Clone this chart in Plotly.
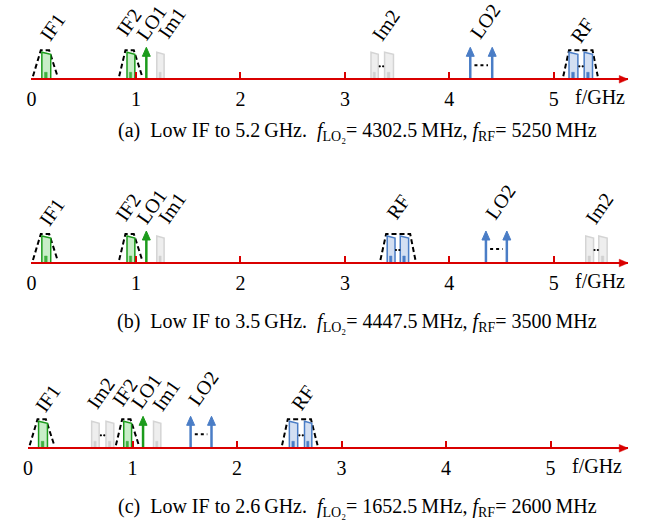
import plotly.graph_objects as go

W, H = 652, 523
PX_PER_GHZ = 105.3

# ---------------- data (GHz) ----------------
TICKS = [0, 1, 2, 3, 4, 5]
TICK_TEXT = ["0", "1", "2", "3", "4", "5"]
IF1_BAND = (0.10, 0.185)
IF2_BAND = (0.915, 0.99)
LO1 = 1.10
IM1_BAND = (1.20, 1.27)
IF1_FILTER_BOTTOM = (0.015, 0.25)
IF1_FILTER_TOP = (0.09, 0.17)
IF2_FILTER_BOTTOM = (0.84, 1.06)
IF2_FILTER_TOP = (0.90, 0.98)

LO2_ARROWS = [(4.20, 4.41), (4.35, 4.55), (1.555, 1.755)]
RF_BANDS = [[(5.145, 5.23), (5.29, 5.37)],
            [(3.405, 3.48), (3.53, 3.61)],
            [(2.50, 2.58), (2.645, 2.715)]]
RF_FILTER_BOTTOM = [(5.09, 5.42), (3.34, 3.675), (2.43, 2.77)]
RF_FILTER_TOP = [(5.145, 5.37), (3.395, 3.625), (2.485, 2.707)]
IM2_BANDS = [[(3.25, 3.32), (3.38, 3.465)],
             [(5.305, 5.38), (5.43, 5.51)],
             [(0.608, 0.68), (0.745, 0.82)]]

PANEL_LABELS = [
    [("IF1", 0.203, 52), ("IF2", 0.934, 57), ("LO1", 1.154, 57), ("Im1", 1.343, 56),
     ("Im2", 3.394, 54), ("LO2", 4.344, 58), ("RF", 5.274, 49)],
    [("IF1", 0.194, 51), ("IF2", 0.925, 56), ("LO1", 1.154, 57), ("Im1", 1.343, 55),
     ("RF", 3.508, 56), ("LO2", 4.486, 61), ("Im2", 5.436, 55)],
    [("IF1", 0.19, 50), ("Im2", 0.697, 55), ("IF2", 0.928, 56), ("LO1", 1.132, 57),
     ("Im1", 1.322, 53), ("LO2", 1.678, 60), ("RF", 2.628, 50)],
]
UNIT_LABEL = "f/GHz"
UNIT_X = 5.445
CAPTIONS = [
    "(a)\u2002Low IF to 5.2\u2009GHz.\u2002<i>f</i><sub>LO\u2082</sub>= 4302.5\u2009MHz, <i>f</i><sub>RF</sub>= 5250\u2009MHz",
    "(b)\u2002Low IF to 3.5\u2009GHz.\u2002<i>f</i><sub>LO\u2082</sub>= 4447.5\u2009MHz, <i>f</i><sub>RF</sub>= 3500\u2009MHz",
    "(c)\u2002Low IF to 2.6\u2009GHz.\u2002<i>f</i><sub>LO\u2082</sub>= 1652.5\u2009MHz, <i>f</i><sub>RF</sub>= 2600\u2009MHz",
]

# ---------------- layout / style ----------------
AXIS_PX = [79.3, 263.0, 448.3]       # y pixel of each frequency axis
ZERO_PX = [26.6, 26.6, 23.3]         # x pixel of 0 GHz
END_PX = 628
CAPTION_PX = [131, 322, 507]
CAPTION_CX = 355
Y_BELOW, Y_ABOVE = 10, 68
UNIT_DY = 18

FONT = "Liberation Serif"
RED = "#d90000"
GREEN = dict(line="#1c9b1c", fill="#c9eec9", inner="#3fb03f")
BLUE = dict(line="#4a7dc6", fill="#d3dff2", inner="#4a7dc6")
GREY = dict(line="#d4d4d4", fill="#eeeeee", inner="#d0d0d0")

BAND_H_L, BAND_H_R = 27, 25
INNER_H = 7
FILTER_H, FILTER_BASE = 29, 3
ARROW_H, HEAD_H = 32, 9
HEAD_HW = 4 / PX_PER_GHZ
AX_HEAD_L, AX_HEAD_HW = 9 / PX_PER_GHZ, 3.8

fig = go.Figure()
annotations = []


def ax_names(i):
    s = "" if i == 0 else str(i + 1)
    return "x" + s, "y" + s


def add(i, **kw):
    xa, ya = ax_names(i)
    fig.add_trace(go.Scatter(xaxis=xa, yaxis=ya, hoverinfo="skip", showlegend=False, **kw))


def band(i, x0, x1, col):
    add(i, x=[x0, x0, x1, x1, x0], y=[0, BAND_H_L, BAND_H_R, 0, 0],
        mode="lines", fill="toself", fillcolor=col["fill"],
        line=dict(color=col["line"], width=1.5))
    w = x1 - x0
    a, b = x0 + 0.3 * w, x0 + 0.6 * w
    add(i, x=[a, a, b, b, a], y=[0, INNER_H, INNER_H, 0, 0],
        mode="lines", fill="toself", fillcolor=col["inner"],
        line=dict(color=col["inner"], width=0.5))


def filt(i, bottom, top):
    add(i, x=[bottom[0], top[0], top[1], bottom[1]],
        y=[FILTER_BASE, FILTER_H, FILTER_H, FILTER_BASE],
        mode="lines", line=dict(color="black", width=2, dash="5px,3px"))


def arrow(i, f, color):
    add(i, x=[f, f], y=[0, ARROW_H - HEAD_H + 1], mode="lines",
        line=dict(color=color, width=2.5))
    add(i, x=[f - HEAD_HW, f + HEAD_HW, f, f - HEAD_HW],
        y=[ARROW_H - HEAD_H, ARROW_H - HEAD_H, ARROW_H, ARROW_H - HEAD_H],
        mode="lines", fill="toself", fillcolor=color, line=dict(color=color, width=1))


def dots_between(i, xl, xr, y):
    add(i, x=[xl, xr], y=[y, y], mode="lines", line=dict(color="black", width=2, dash="dot"))


def two_dots(i, xl, xr, y):
    c = (xl + xr) / 2
    d = 0.016
    add(i, x=[c - d, c + d], y=[y, y], mode="markers", marker=dict(color="black", size=2.2))


for i in range(3):
    xa, ya = ax_names(i)
    filt(i, IF1_FILTER_BOTTOM, IF1_FILTER_TOP)
    band(i, *IF1_BAND, GREEN)
    filt(i, IF2_FILTER_BOTTOM, IF2_FILTER_TOP)
    band(i, *IF2_BAND, GREEN)
    arrow(i, LO1, GREEN["line"])
    band(i, *IM1_BAND, GREY)
    for b in IM2_BANDS[i]:
        band(i, *b, GREY)
    two_dots(i, IM2_BANDS[i][0][1], IM2_BANDS[i][1][0], 13)
    l, r = LO2_ARROWS[i]
    arrow(i, l, BLUE["line"])
    arrow(i, r, BLUE["line"])
    dots_between(i, l + 0.04, r - 0.04, 14)
    filt(i, RF_FILTER_BOTTOM[i], RF_FILTER_TOP[i])
    for b in RF_BANDS[i]:
        band(i, *b, BLUE)
    two_dots(i, RF_BANDS[i][0][1], RF_BANDS[i][1][0], 13)

    x_end = (END_PX - ZERO_PX[i]) / PX_PER_GHZ
    add(i, x=[x_end - AX_HEAD_L, x_end, x_end - AX_HEAD_L, x_end - AX_HEAD_L],
        y=[-AX_HEAD_HW, 0, AX_HEAD_HW, -AX_HEAD_HW], mode="lines", fill="toself",
        fillcolor=RED, line=dict(color=RED, width=0.5))

    annotations.append(dict(x=UNIT_X, y=1 - (AXIS_PX[i] + UNIT_DY) / H, xref=xa, yref="paper",
                            text=UNIT_LABEL, showarrow=False,
                            font=dict(family=FONT, size=20, color="black"),
                            xanchor="center", yanchor="middle"))
    for txt, lx, ly in PANEL_LABELS[i]:
        annotations.append(dict(x=lx, y=ly, xref=xa, yref=ya, text=txt, showarrow=False,
                                textangle=-55, font=dict(family=FONT, size=20, color="black"),
                                xanchor="center", yanchor="middle"))
    annotations.append(dict(x=CAPTION_CX / W, y=1 - CAPTION_PX[i] / H, xref="paper", yref="paper",
                            text=CAPTIONS[i], showarrow=False, xanchor="center", yanchor="middle",
                            font=dict(family=FONT, size=20, color="black")))

layout = dict(width=W, height=H, margin=dict(l=0, r=0, t=0, b=0),
              paper_bgcolor="white", plot_bgcolor="rgba(0,0,0,0)", showlegend=False,
              annotations=annotations)
for i in range(3):
    key = "" if i == 0 else str(i + 1)
    x0 = ZERO_PX[i]
    x_end = (END_PX - x0) / PX_PER_GHZ
    layout["xaxis" + key] = dict(domain=[x0 / W, END_PX / W], range=[0, x_end],
                                 anchor="free", position=1 - AXIS_PX[i] / H,
                                 showgrid=False, zeroline=False,
                                 showline=True, linecolor=RED, linewidth=2,
                                 ticks="inside", ticklen=6, tickwidth=1.5, tickcolor=RED,
                                 tickvals=TICKS, ticktext=TICK_TEXT,
                                 tickfont=dict(family=FONT, size=20, color="black"),
                                 ticklabelstandoff=2, fixedrange=True)
    layout["yaxis" + key] = dict(domain=[1 - (AXIS_PX[i] + Y_BELOW) / H,
                                         1 - (AXIS_PX[i] - Y_ABOVE) / H],
                                 range=[-Y_BELOW, Y_ABOVE],
                                 anchor="x" + key, visible=False, fixedrange=True)
fig.update_layout(**layout)
fig.write_html("out.html", config={"displayModeBar": False},
               post_script="document.body.style.margin='0';document.body.style.overflow='hidden';")
